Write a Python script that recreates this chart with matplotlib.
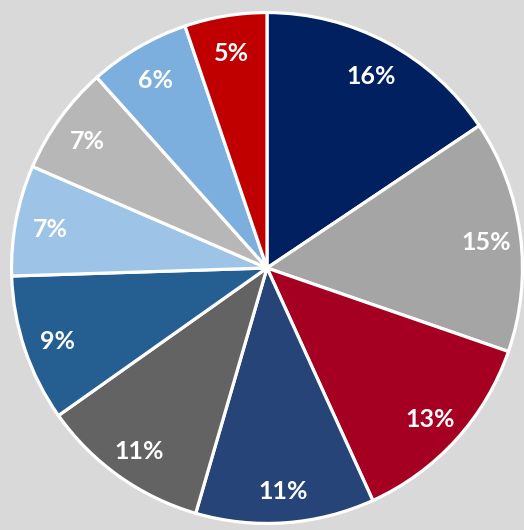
import matplotlib
matplotlib.use("Agg")
import matplotlib.pyplot as plt

# slice shares (percent), clockwise from 12 o'clock
values = [15.6, 14.7, 12.9, 11.3, 10.7, 9.3, 7.0, 6.9, 6.4, 5.2]
labels = ["16%", "15%", "13%", "11%", "11%", "9%", "7%", "7%", "6%", "5%"]
colors = ["#002060", "#a5a5a5", "#a50021", "#264478", "#636363",
          "#255e91", "#9dc3e6", "#b7b7b7", "#7cafdd", "#c00000"]

W, H = 524, 530
cx, cy, R = 267, 268, 258

fig = plt.figure(figsize=(W / 100, H / 100), dpi=100)
fig.patch.set_facecolor("#d9d9d9")
ax = fig.add_axes([(cx - R) / W, 1 - (cy + R) / H, 2 * R / W, 2 * R / H])
ax.set_facecolor("#d9d9d9")

wedges, texts = ax.pie(values, colors=colors, startangle=90, counterclock=False,
                       labels=labels, labeldistance=0.865, radius=1,
                       wedgeprops=dict(edgecolor="white", linewidth=2.3),
                       textprops=dict(color="white", fontsize=18, fontweight="bold",
                                      family=["Lato", "DejaVu Sans"]))
for t in texts:
    t.set_ha("center")
    t.set_va("center")
    x, y = t.get_position()
    t.set_position((x, y - 0.012))
ax.set_xlim(-1.01, 1.01)
ax.set_ylim(-1.01, 1.01)
ax.set_aspect("equal")
ax.axis("off")

fig.savefig("out.png", dpi=100, facecolor=fig.get_facecolor())
